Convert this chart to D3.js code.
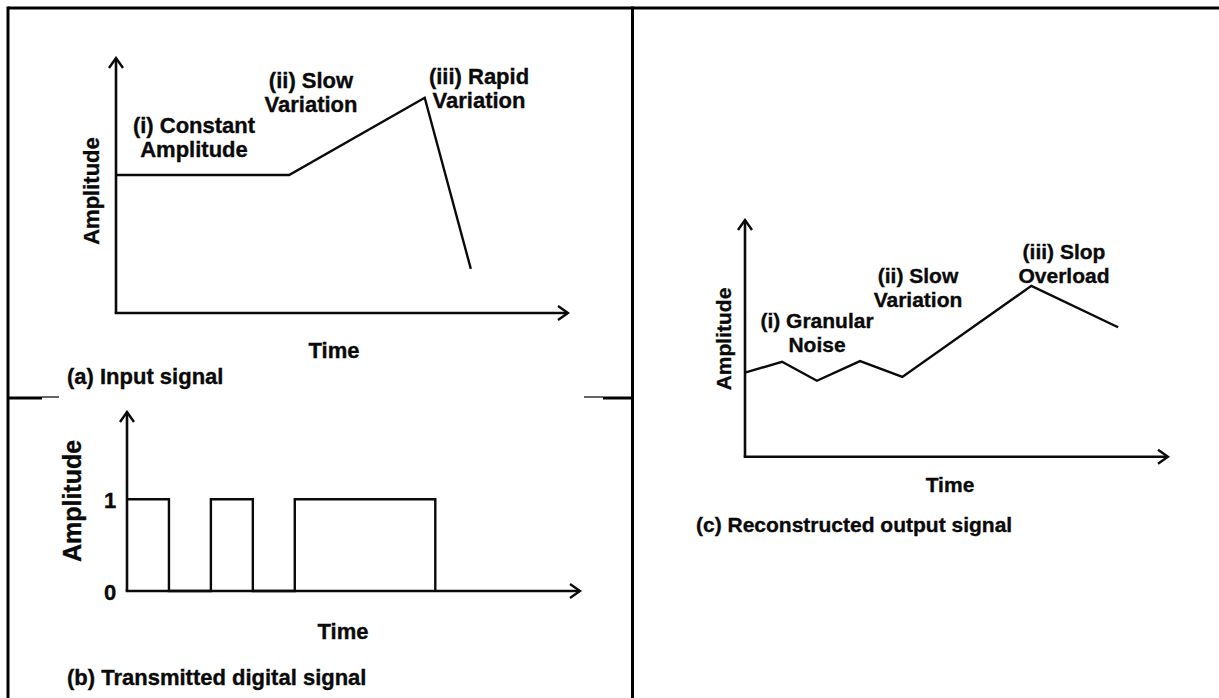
<!DOCTYPE html>
<html>
<head>
<meta charset="utf-8">
<script src="https://cdn.jsdelivr.net/npm/d3@7"></script>
<style>
  html, body { margin: 0; padding: 0; background: #fff; }
  svg { display: block; }
  text { font-family: "Liberation Sans", Arial, Helvetica, sans-serif; font-weight: bold; fill: #0a0a0a; stroke: #0a0a0a; stroke-width: 0.35px; }
</style>
</head>
<body>
<svg id="chart" width="1219" height="698"></svg>
<script>
// ---------- DATA ----------
// (a) Input signal
const inputTime = [0, 3.83, 6.83, 7.85];
const inputAmp  = [5.41, 5.41, 8.44, 1.73];
// (b) Transmitted digital signal (step edges)
const pulseTime  = [0, 1, 2, 3, 4, 7.35];
const pulseLevel = [1, 0, 1, 0, 1, 0];
const pulseTicks = [0, 1];
const pulseTickLabels = ["0", "1"];
// (c) Reconstructed output signal
const outTime = [0, 0.875, 1.70, 2.72, 3.72, 6.77, 8.82];
const outAmp  = [3.55, 4.01, 3.21, 4.04, 3.37, 7.22, 5.47];

// Text
const annotA = [
  {lines: ["(i) Constant", "Amplitude"], x: 194, y: 133, anchor: "middle"},
  {lines: ["(ii) Slow", "Variation"], x: 311, y: 88, anchor: "middle"},
  {lines: ["(iii) Rapid", "Variation"], x: 479, y: 84, anchor: "middle"}
];
const annotC = [
  {lines: ["(i) Granular", "Noise"], x: 817, y: 328, anchor: "middle"},
  {lines: ["(ii) Slow", "Variation"], x: 918, y: 283, anchor: "middle"},
  {lines: ["(iii) Slop", "Overload"], x: 1064, y: 259, anchor: "middle"}
];
const captions = ["(a) Input signal", "(b) Transmitted digital signal", "(c) Reconstructed output signal"];

// ---------- DRAW ----------
const svg = d3.select("#chart");
const ink = "#0a0a0a";

svg.append("defs").append("marker")
  .attr("id", "arrow")
  .attr("markerUnits", "userSpaceOnUse")
  .attr("viewBox", "-12 -9 14 18")
  .attr("refX", 0).attr("refY", 0)
  .attr("markerWidth", 14).attr("markerHeight", 18)
  .attr("orient", "auto")
  .append("path")
  .attr("d", "M-10,-7L0,0L-10,7")
  .attr("fill", "none").attr("stroke", ink).attr("stroke-width", 2.4)
  .attr("stroke-linejoin", "miter");

// Frame
const frame = svg.append("g").attr("stroke", "#000").attr("fill", "none");
frame.append("line").attr("x1", 8).attr("y1", 8).attr("x2", 1219).attr("y2", 8).attr("stroke-width", 3);
frame.append("line").attr("x1", 8).attr("y1", 6.5).attr("x2", 8).attr("y2", 698).attr("stroke-width", 3);
frame.append("line").attr("x1", 632.5).attr("y1", 6.5).attr("x2", 632.5).attr("y2", 698).attr("stroke-width", 3);
frame.append("line").attr("x1", 8).attr("y1", 398).attr("x2", 42).attr("y2", 398).attr("stroke-width", 3);
frame.append("line").attr("x1", 42).attr("y1", 397).attr("x2", 59).attr("y2", 397).attr("stroke-width", 1.2);
frame.append("line").attr("x1", 584).attr("y1", 397).attr("x2", 603).attr("y2", 397).attr("stroke-width", 1.2);
frame.append("line").attr("x1", 603).attr("y1", 398).attr("x2", 632.5).attr("y2", 398).attr("stroke-width", 3);

function axesArrows(g, x, y) {
  const [x0, x1] = x.range();
  const [y0, y1] = y.range();
  g.append("line").attr("x1", x0).attr("y1", y0).attr("x2", x0).attr("y2", y1)
    .attr("stroke", ink).attr("stroke-width", 2.6).attr("marker-end", "url(#arrow)");
  g.append("line").attr("x1", x0 - 1.3).attr("y1", y0).attr("x2", x1).attr("y2", y0)
    .attr("stroke", ink).attr("stroke-width", 2.6).attr("marker-end", "url(#arrow)");
}
function multiline(g, a, size) {
  const t = g.append("text").attr("x", a.x).attr("y", a.y)
    .attr("text-anchor", a.anchor).style("font-size", size + "px");
  a.lines.forEach((s, i) => {
    t.append("tspan").attr("x", a.x).attr("y", a.y + i * 24).text(s);
  });
}
function rotLabel(g, x, y, size, s) {
  g.append("text").attr("transform", `translate(${x},${y}) rotate(-90)`)
    .attr("text-anchor", "middle").style("font-size", size + "px").text(s);
}

// ----- Panel (a)
{
  const x = d3.scaleLinear().domain([0, 10]).range([116, 568]);
  const y = d3.scaleLinear().domain([0, 10]).range([313, 58]);
  const g = svg.append("g");
  axesArrows(g, x, y);
  const line = d3.line().x(d => x(d[0])).y(d => y(d[1]));
  g.append("path").datum(d3.zip(inputTime, inputAmp)).attr("d", line)
    .attr("fill", "none").attr("stroke", ink).attr("stroke-width", 2.4).attr("stroke-linejoin", "miter");
  annotA.forEach(a => multiline(g, a, 22));
  rotLabel(g, 99, 191, 22, "Amplitude");
  g.append("text").attr("x", 334).attr("y", 358).attr("text-anchor", "middle").style("font-size", "22px").text("Time");
  g.append("text").attr("x", 67).attr("y", 384).style("font-size", "22px").text(captions[0]);
}

// ----- Panel (b)
{
  const x = d3.scaleLinear().domain([0, 10.8]).range([127, 580]);
  const y = d3.scaleLinear().domain([0, 1.95]).range([591, 412]);
  const g = svg.append("g");
  axesArrows(g, x, y);
  const line = d3.line().x(d => x(d[0])).y(d => y(d[1])).curve(d3.curveStepAfter);
  g.append("path").datum(d3.zip(pulseTime, pulseLevel)).attr("d", line)
    .attr("fill", "none").attr("stroke", ink).attr("stroke-width", 2.4);
  const ax = d3.axisLeft(y).tickValues(pulseTicks)
    .tickFormat((d, i) => pulseTickLabels[i]).tickSize(0).tickPadding(13);
  const axg = g.append("g").attr("transform", `translate(${x.range()[0]},0)`).call(ax);
  axg.select(".domain").remove();
  axg.selectAll("text").attr("text-anchor", "middle").attr("x", -17).attr("dy", "0.38em")
    .style("font-size", "22px").style("font-family", "'Liberation Sans', Arial, sans-serif")
    .style("font-weight", "bold").attr("fill", ink);
  rotLabel(g, 81, 501, 25, "Amplitude");
  g.append("text").attr("x", 343).attr("y", 639).attr("text-anchor", "middle").style("font-size", "22px").text("Time");
  g.append("text").attr("x", 67).attr("y", 685).style("font-size", "22px").text(captions[1]);
}

// ----- Panel (c)
{
  const x = d3.scaleLinear().domain([0, 10]).range([745, 1168]);
  const y = d3.scaleLinear().domain([0, 10]).range([456.7, 220]);
  const g = svg.append("g");
  axesArrows(g, x, y);
  const line = d3.line().x(d => x(d[0])).y(d => y(d[1]));
  g.append("path").datum(d3.zip(outTime, outAmp)).attr("d", line)
    .attr("fill", "none").attr("stroke", ink).attr("stroke-width", 2.4).attr("stroke-linejoin", "miter");
  annotC.forEach(a => multiline(g, a, 21));
  rotLabel(g, 731, 339, 21, "Amplitude");
  g.append("text").attr("x", 950).attr("y", 492).attr("text-anchor", "middle").style("font-size", "21px").text("Time");
  g.append("text").attr("x", 696).attr("y", 532).style("font-size", "21px").text(captions[2]);
}
</script>
</body>
</html>
